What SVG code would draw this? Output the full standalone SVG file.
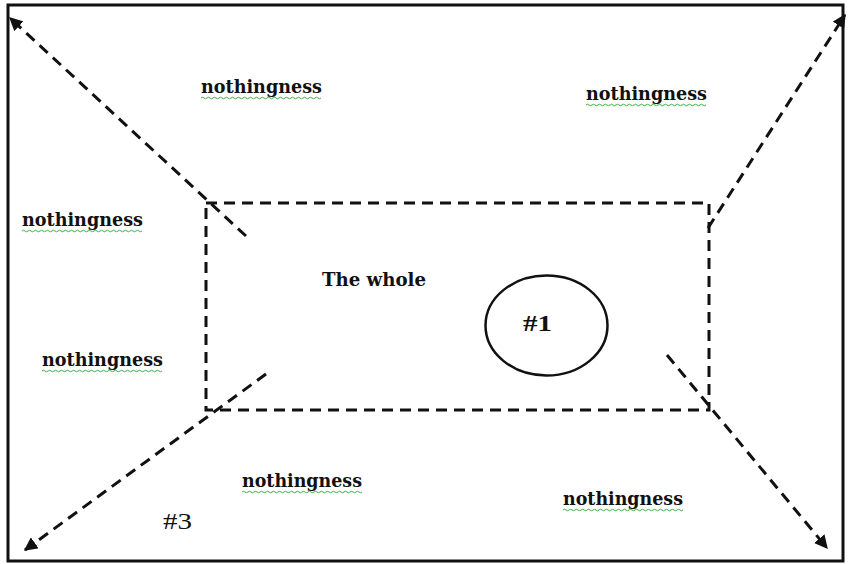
<svg xmlns="http://www.w3.org/2000/svg" width="852" height="564" viewBox="0 0 852 564">
<style>
.frame{fill:none;stroke:#111;stroke-width:3}
.dash{fill:none;stroke:#111;stroke-width:3;stroke-dasharray:11 7}
.lbl{font-family:"DejaVu Serif","Liberation Serif",serif;font-weight:bold;font-size:18px;fill:#111}
.num{font-family:"Liberation Serif","DejaVu Serif",serif;font-size:23px;fill:#111}
.wavy{fill:none;stroke:#3cb043;stroke-width:1}
</style>
<defs>
<marker id="ah" viewBox="0 0 10 10" refX="9" refY="5" markerWidth="4.5" markerHeight="4.5" orient="auto" markerUnits="strokeWidth">
<path d="M0,0 L10,5 L0,10 z" fill="#111"/>
</marker>
<path id="wv" d="M0,0 q1.5,-1.5 3,0 t3,0 t3,0 t3,0 t3,0 t3,0 t3,0 t3,0 t3,0 t3,0 t3,0 t3,0 t3,0 t3,0 t3,0 t3,0 t3,0 t3,0 t3,0 t3,0 t3,0 t3,0 t3,0 t3,0 t3,0 t3,0 t3,0 t3,0 t3,0 t3,0 t3,0 t3,0 t3,0 t3,0 t3,0 t3,0 t3,0 t3,0 t3,0 t3,0"/>
</defs>
<rect width="852" height="564" fill="#fff"/>
<g id="frame"><rect class="frame" x="8" y="5" width="835" height="556"/></g>
<g id="whole">
<rect class="dash" x="206" y="203" width="503" height="207"/>
<text class="lbl" x="322" y="286" textLength="104" lengthAdjust="spacingAndGlyphs">The whole</text>
</g>
<g id="n1">
<ellipse cx="546.5" cy="325.5" rx="61" ry="50" fill="none" stroke="#111" stroke-width="2.5"/>
<text class="num" x="523" y="331" font-weight="bold" textLength="29" lengthAdjust="spacingAndGlyphs">#1</text>
</g>
<g id="n3"><text class="num" x="163" y="529" textLength="29" lengthAdjust="spacingAndGlyphs">#3</text></g>
<g id="labels">
<text class="lbl" x="201" y="93" textLength="121" lengthAdjust="spacingAndGlyphs">nothingness</text>
<use href="#wv" class="wavy" x="201" y="98"/>
<text class="lbl" x="586" y="100" textLength="121" lengthAdjust="spacingAndGlyphs">nothingness</text>
<use href="#wv" class="wavy" x="586" y="105"/>
<text class="lbl" x="22" y="226" textLength="121" lengthAdjust="spacingAndGlyphs">nothingness</text>
<use href="#wv" class="wavy" x="22" y="231"/>
<text class="lbl" x="42" y="366" textLength="121" lengthAdjust="spacingAndGlyphs">nothingness</text>
<use href="#wv" class="wavy" x="42" y="371"/>
<text class="lbl" x="242" y="487" textLength="120" lengthAdjust="spacingAndGlyphs">nothingness</text>
<use href="#wv" class="wavy" x="242" y="492"/>
<text class="lbl" x="563" y="505" textLength="120" lengthAdjust="spacingAndGlyphs">nothingness</text>
<use href="#wv" class="wavy" x="563" y="510"/>
</g>
<g id="connectors">
<line class="dash" x1="246" y1="236" x2="10" y2="18" marker-end="url(#ah)"/>
<line class="dash" x1="708" y1="228" x2="845" y2="15" marker-end="url(#ah)"/>
<line class="dash" x1="266" y1="374" x2="25" y2="550" marker-end="url(#ah)"/>
<line class="dash" x1="667" y1="355" x2="827" y2="548" marker-end="url(#ah)"/>
</g>
</svg>
